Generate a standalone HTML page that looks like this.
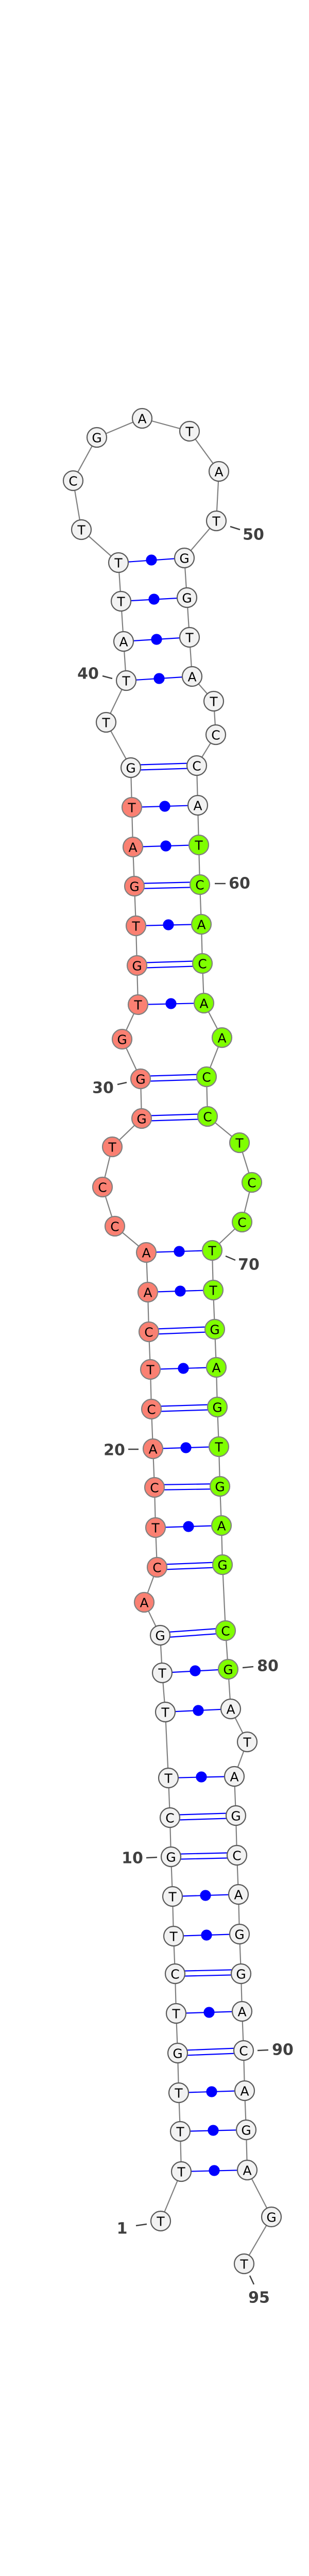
<!DOCTYPE html>
<html><head><meta charset="utf-8"><style>
html,body{margin:0;padding:0;background:#fff;width:600px;height:5154px;overflow:hidden;}
svg{display:block;}
.n text{font-family:"DejaVu Sans","Liberation Sans",sans-serif;font-size:25px;text-anchor:middle;dominant-baseline:central;fill:#000;}
.lbl{font-family:"DejaVu Sans","Liberation Sans",sans-serif;font-size:30px;font-weight:bold;fill:#404040;text-anchor:middle;dominant-baseline:central;}
</style></head><body>
<svg width="600" height="5154" viewBox="0 0 600 5154" xmlns="http://www.w3.org/2000/svg">
<rect width="600" height="5154" fill="#fff"/>
<polyline fill="none" stroke="#808080" stroke-width="2.2" points="312,4311 352,4215 350,4137 347,4062 345,3985 342,3908 340,3831 337,3758 335,3681 332,3604 330,3528 327,3451 321,3323 315,3247 311,3174 280,3110 305,3042 302,2965 300,2887 297,2812 294,2735 292,2658 289,2585 287,2508 284,2431 223,2380 199,2304 218,2226 275,2171 273,2094 237,2017 268,1950 266,1874 264,1797 261,1720 258,1644 256,1567 254,1490 206,1402 245,1321 240,1245 235,1167 230,1092 158,1028 142,933 188,849 276,812 368,837 425,915 420,1011 358,1083 363,1160 368,1237 373,1313 415,1361 419,1426 382,1486 384,1563 386,1640 388,1717 391,1794 393,1870 396,1947 431,2014 401,2090 403,2167 465,2218 489,2295 470,2372 412,2427 414,2504 417,2580 420,2654 422,2731 425,2808 427,2885 430,2961 432,3037 438,3165 443,3240 448,3317 480,3381 455,3448 458,3524 460,3601 463,3677 465,3754 468,3831 470,3904 473,3980 475,4058 478,4134 480,4212 527,4303 474,4394"/>
<g stroke="#0000ff" stroke-width="2.2" fill="#0000ff">
<line x1="352" y1="4215" x2="480" y2="4212"/><circle cx="416" cy="4213" r="9.5"/>
<line x1="350" y1="4137" x2="478" y2="4134"/><circle cx="414" cy="4135" r="9.5"/>
<line x1="347" y1="4062" x2="475" y2="4058"/><circle cx="411" cy="4060" r="9.5"/>
<line x1="342" y1="3908" x2="470" y2="3904"/><circle cx="406" cy="3906" r="9.5"/>
<line x1="337" y1="3758" x2="465" y2="3754"/><circle cx="401" cy="3756" r="9.5"/>
<line x1="335" y1="3681" x2="463" y2="3677"/><circle cx="399" cy="3679" r="9.5"/>
<line x1="327" y1="3451" x2="455" y2="3448"/><circle cx="391" cy="3449" r="9.5"/>
<line x1="321" y1="3323" x2="448" y2="3317"/><circle cx="385" cy="3320" r="9.5"/>
<line x1="315" y1="3247" x2="443" y2="3240"/><circle cx="379" cy="3243" r="9.5"/>
<line x1="302" y1="2965" x2="430" y2="2961"/><circle cx="366" cy="2963" r="9.5"/>
<line x1="297" y1="2812" x2="425" y2="2808"/><circle cx="361" cy="2810" r="9.5"/>
<line x1="292" y1="2658" x2="420" y2="2654"/><circle cx="356" cy="2656" r="9.5"/>
<line x1="287" y1="2508" x2="414" y2="2504"/><circle cx="350" cy="2506" r="9.5"/>
<line x1="284" y1="2431" x2="412" y2="2427"/><circle cx="348" cy="2429" r="9.5"/>
<line x1="268" y1="1950" x2="396" y2="1947"/><circle cx="332" cy="1948" r="9.5"/>
<line x1="264" y1="1797" x2="391" y2="1794"/><circle cx="327" cy="1795" r="9.5"/>
<line x1="258" y1="1644" x2="386" y2="1640"/><circle cx="322" cy="1642" r="9.5"/>
<line x1="256" y1="1567" x2="384" y2="1563"/><circle cx="320" cy="1565" r="9.5"/>
<line x1="245" y1="1321" x2="373" y2="1313"/><circle cx="309" cy="1317" r="9.5"/>
<line x1="240" y1="1245" x2="368" y2="1237"/><circle cx="304" cy="1241" r="9.5"/>
<line x1="235" y1="1167" x2="363" y2="1160"/><circle cx="299" cy="1163" r="9.5"/>
<line x1="230" y1="1092" x2="358" y2="1083"/><circle cx="294" cy="1087" r="9.5"/>
</g>
<g stroke="#0000ff" stroke-width="2.2">
<line x1="345" y1="3980" x2="473" y2="3975"/><line x1="345" y1="3990" x2="473" y2="3985"/>
<line x1="340" y1="3826" x2="468" y2="3823"/><line x1="340" y1="3836" x2="468" y2="3833"/>
<line x1="332" y1="3599" x2="460" y2="3596"/><line x1="332" y1="3609" x2="460" y2="3606"/>
<line x1="330" y1="3523" x2="458" y2="3519"/><line x1="330" y1="3533" x2="458" y2="3529"/>
<line x1="311" y1="3169" x2="438" y2="3160"/><line x1="311" y1="3179" x2="438" y2="3170"/>
<line x1="305" y1="3037" x2="432" y2="3032"/><line x1="305" y1="3047" x2="432" y2="3042"/>
<line x1="300" y1="2882" x2="427" y2="2880"/><line x1="300" y1="2892" x2="427" y2="2890"/>
<line x1="294" y1="2730" x2="422" y2="2726"/><line x1="294" y1="2740" x2="422" y2="2736"/>
<line x1="289" y1="2580" x2="417" y2="2575"/><line x1="289" y1="2590" x2="417" y2="2585"/>
<line x1="275" y1="2166" x2="403" y2="2162"/><line x1="275" y1="2176" x2="403" y2="2172"/>
<line x1="273" y1="2089" x2="401" y2="2085"/><line x1="273" y1="2099" x2="401" y2="2095"/>
<line x1="266" y1="1869" x2="393" y2="1865"/><line x1="266" y1="1879" x2="393" y2="1875"/>
<line x1="261" y1="1715" x2="388" y2="1712"/><line x1="261" y1="1725" x2="388" y2="1722"/>
<line x1="254" y1="1485" x2="382" y2="1481"/><line x1="254" y1="1495" x2="382" y2="1491"/>
</g>
<g stroke="#404040" stroke-width="2.5">
<line x1="264" y1="4320" x2="285" y2="4317"/>
<line x1="284" y1="3606" x2="305" y2="3605"/>
<line x1="249" y1="2813" x2="269" y2="2813"/>
<line x1="228" y1="2105" x2="246" y2="2101"/>
<line x1="199" y1="1312" x2="218" y2="1317"/>
<line x1="447" y1="1022" x2="466" y2="1028"/>
<line x1="417" y1="1715" x2="438" y2="1715"/>
<line x1="438" y1="2438" x2="457" y2="2446"/>
<line x1="471" y1="3237" x2="492" y2="3235"/>
<line x1="500" y1="3980" x2="521" y2="3979"/>
<line x1="485" y1="4417" x2="493" y2="4434"/>
</g>
<text class="lbl" x="237" y="4326">1</text>
<text class="lbl" x="257" y="3607">10</text>
<text class="lbl" x="222" y="2815">20</text>
<text class="lbl" x="200" y="2112">30</text>
<text class="lbl" x="171" y="1308">40</text>
<text class="lbl" x="492" y="1038">50</text>
<text class="lbl" x="465" y="1715">60</text>
<text class="lbl" x="483" y="2455">70</text>
<text class="lbl" x="520" y="3234">80</text>
<text class="lbl" x="549" y="3979">90</text>
<text class="lbl" x="503" y="4460">95</text>
<g class="n" stroke-width="2.2">
<g fill="#f2f2f2" stroke="#5a5a5a">
<circle cx="312" cy="4311" r="19"/><circle cx="352" cy="4215" r="19"/><circle cx="350" cy="4137" r="19"/><circle cx="347" cy="4062" r="19"/><circle cx="345" cy="3985" r="19"/><circle cx="342" cy="3908" r="19"/><circle cx="340" cy="3831" r="19"/><circle cx="337" cy="3758" r="19"/><circle cx="335" cy="3681" r="19"/><circle cx="332" cy="3604" r="19"/><circle cx="330" cy="3528" r="19"/><circle cx="327" cy="3451" r="19"/><circle cx="321" cy="3323" r="19"/><circle cx="315" cy="3247" r="19"/><circle cx="311" cy="3174" r="19"/>
<circle cx="254" cy="1490" r="19"/><circle cx="206" cy="1402" r="19"/><circle cx="245" cy="1321" r="19"/><circle cx="240" cy="1245" r="19"/><circle cx="235" cy="1167" r="19"/><circle cx="230" cy="1092" r="19"/><circle cx="158" cy="1028" r="19"/><circle cx="142" cy="933" r="19"/><circle cx="188" cy="849" r="19"/><circle cx="276" cy="812" r="19"/><circle cx="368" cy="837" r="19"/><circle cx="425" cy="915" r="19"/><circle cx="420" cy="1011" r="19"/><circle cx="358" cy="1083" r="19"/><circle cx="363" cy="1160" r="19"/><circle cx="368" cy="1237" r="19"/><circle cx="373" cy="1313" r="19"/><circle cx="415" cy="1361" r="19"/><circle cx="419" cy="1426" r="19"/><circle cx="382" cy="1486" r="19"/><circle cx="384" cy="1563" r="19"/>
<circle cx="448" cy="3317" r="19"/><circle cx="480" cy="3381" r="19"/><circle cx="455" cy="3448" r="19"/><circle cx="458" cy="3524" r="19"/><circle cx="460" cy="3601" r="19"/><circle cx="463" cy="3677" r="19"/><circle cx="465" cy="3754" r="19"/><circle cx="468" cy="3831" r="19"/><circle cx="470" cy="3904" r="19"/><circle cx="473" cy="3980" r="19"/><circle cx="475" cy="4058" r="19"/><circle cx="478" cy="4134" r="19"/><circle cx="480" cy="4212" r="19"/><circle cx="527" cy="4303" r="19"/><circle cx="474" cy="4394" r="19"/>
</g>
<g fill="#fa8072" stroke="#808080">
<circle cx="280" cy="3110" r="19"/><circle cx="305" cy="3042" r="19"/><circle cx="302" cy="2965" r="19"/><circle cx="300" cy="2887" r="19"/><circle cx="297" cy="2812" r="19"/><circle cx="294" cy="2735" r="19"/><circle cx="292" cy="2658" r="19"/><circle cx="289" cy="2585" r="19"/><circle cx="287" cy="2508" r="19"/><circle cx="284" cy="2431" r="19"/><circle cx="223" cy="2380" r="19"/><circle cx="199" cy="2304" r="19"/><circle cx="218" cy="2226" r="19"/><circle cx="275" cy="2171" r="19"/><circle cx="273" cy="2094" r="19"/><circle cx="237" cy="2017" r="19"/><circle cx="268" cy="1950" r="19"/><circle cx="266" cy="1874" r="19"/><circle cx="264" cy="1797" r="19"/><circle cx="261" cy="1720" r="19"/><circle cx="258" cy="1644" r="19"/><circle cx="256" cy="1567" r="19"/>
</g>
<g fill="#7fff00" stroke="#808080">
<circle cx="386" cy="1640" r="19"/><circle cx="388" cy="1717" r="19"/><circle cx="391" cy="1794" r="19"/><circle cx="393" cy="1870" r="19"/><circle cx="396" cy="1947" r="19"/><circle cx="431" cy="2014" r="19"/><circle cx="401" cy="2090" r="19"/><circle cx="403" cy="2167" r="19"/><circle cx="465" cy="2218" r="19"/><circle cx="489" cy="2295" r="19"/><circle cx="470" cy="2372" r="19"/><circle cx="412" cy="2427" r="19"/><circle cx="414" cy="2504" r="19"/><circle cx="417" cy="2580" r="19"/><circle cx="420" cy="2654" r="19"/><circle cx="422" cy="2731" r="19"/><circle cx="425" cy="2808" r="19"/><circle cx="427" cy="2885" r="19"/><circle cx="430" cy="2961" r="19"/><circle cx="432" cy="3037" r="19"/><circle cx="438" cy="3165" r="19"/><circle cx="443" cy="3240" r="19"/>
</g>
<g stroke="none">
<text x="312" y="4312">T</text><text x="352" y="4216">T</text><text x="350" y="4138">T</text><text x="347" y="4063">T</text><text x="345" y="3986">G</text><text x="342" y="3909">T</text><text x="340" y="3832">C</text><text x="337" y="3759">T</text><text x="335" y="3682">T</text><text x="332" y="3605">G</text><text x="330" y="3529">C</text><text x="327" y="3452">T</text><text x="321" y="3324">T</text><text x="315" y="3248">T</text><text x="311" y="3175">G</text>
<text x="280" y="3111">A</text><text x="305" y="3043">C</text><text x="302" y="2966">T</text><text x="300" y="2888">C</text><text x="297" y="2813">A</text><text x="294" y="2736">C</text><text x="292" y="2659">T</text><text x="289" y="2586">C</text><text x="287" y="2509">A</text><text x="284" y="2432">A</text><text x="223" y="2381">C</text><text x="199" y="2305">C</text><text x="218" y="2227">T</text><text x="275" y="2172">G</text><text x="273" y="2095">G</text><text x="237" y="2018">G</text><text x="268" y="1951">T</text><text x="266" y="1875">G</text><text x="264" y="1798">T</text><text x="261" y="1721">G</text><text x="258" y="1645">A</text><text x="256" y="1568">T</text>
<text x="254" y="1491">G</text><text x="206" y="1403">T</text><text x="245" y="1322">T</text><text x="240" y="1246">A</text><text x="235" y="1168">T</text><text x="230" y="1093">T</text><text x="158" y="1029">T</text><text x="142" y="934">C</text><text x="188" y="850">G</text><text x="276" y="813">A</text><text x="368" y="838">T</text><text x="425" y="916">A</text><text x="420" y="1012">T</text><text x="358" y="1084">G</text><text x="363" y="1161">G</text><text x="368" y="1238">T</text><text x="373" y="1314">A</text><text x="415" y="1362">T</text><text x="419" y="1427">C</text><text x="382" y="1487">C</text><text x="384" y="1564">A</text>
<text x="386" y="1641">T</text><text x="388" y="1718">C</text><text x="391" y="1795">A</text><text x="393" y="1871">C</text><text x="396" y="1948">A</text><text x="431" y="2015">A</text><text x="401" y="2091">C</text><text x="403" y="2168">C</text><text x="465" y="2219">T</text><text x="489" y="2296">C</text><text x="470" y="2373">C</text><text x="412" y="2428">T</text><text x="414" y="2505">T</text><text x="417" y="2581">G</text><text x="420" y="2655">A</text><text x="422" y="2732">G</text><text x="425" y="2809">T</text><text x="427" y="2886">G</text><text x="430" y="2962">A</text><text x="432" y="3038">G</text><text x="438" y="3166">C</text><text x="443" y="3241">G</text>
<text x="448" y="3318">A</text><text x="480" y="3382">T</text><text x="455" y="3449">A</text><text x="458" y="3525">G</text><text x="460" y="3602">C</text><text x="463" y="3678">A</text><text x="465" y="3755">G</text><text x="468" y="3832">G</text><text x="470" y="3905">A</text><text x="473" y="3981">C</text><text x="475" y="4059">A</text><text x="478" y="4135">G</text><text x="480" y="4213">A</text><text x="527" y="4304">G</text><text x="474" y="4395">T</text>
</g>
</g>
<text x="302" y="5140" font-family="DejaVu Sans, Liberation Sans, sans-serif" font-size="11" font-weight="bold" fill="#000" text-anchor="middle">dsi-mir-307_annot [-42.7]</text>
</svg>
</body></html>
